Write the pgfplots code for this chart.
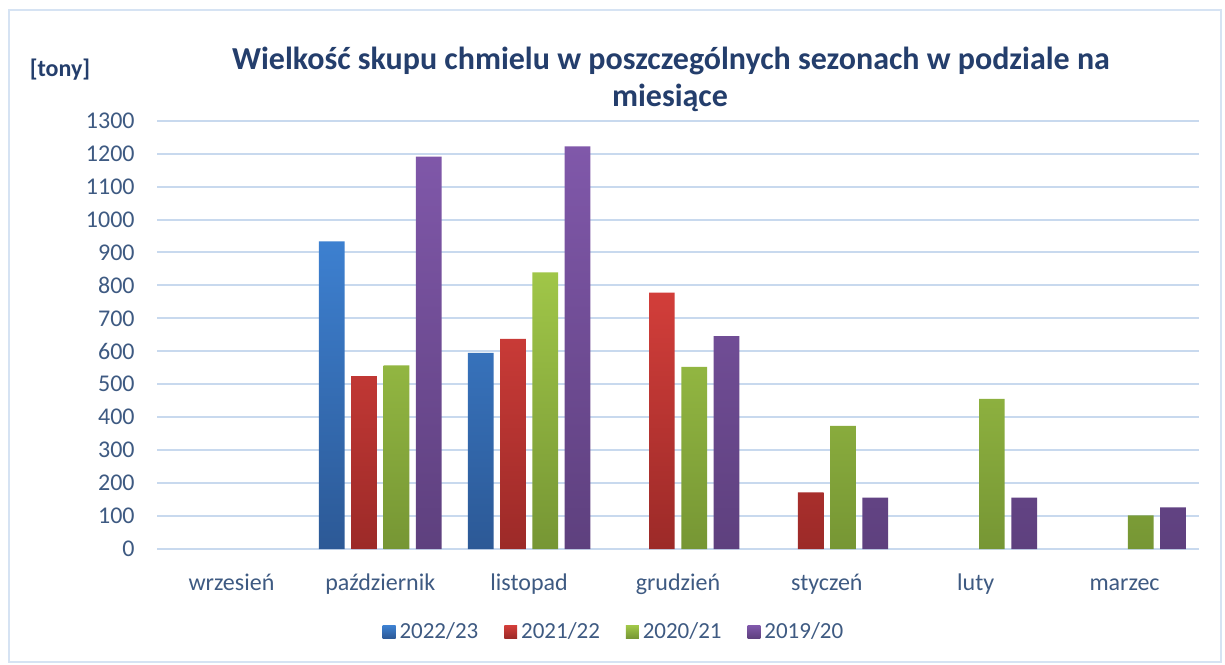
\documentclass[border=0pt]{standalone}
\usepackage{pgfplots}
\pgfplotsset{compat=1.18}
\usepackage{fontspec}
\setmainfont{Carlito}
\definecolor{titlec}{RGB}{36,62,108}
\definecolor{tickc}{RGB}{62,90,130}
\definecolor{gridc}{RGB}{200,217,238}
\definecolor{framec}{RGB}{214,227,243}
\definecolor{blueT}{RGB}{61,128,208}\definecolor{blueB}{RGB}{44,89,150}
\definecolor{redT}{RGB}{210,62,58}\definecolor{redB}{RGB}{156,42,40}
\definecolor{greenT}{RGB}{160,198,72}\definecolor{greenB}{RGB}{118,150,52}
\definecolor{purT}{RGB}{128,88,170}\definecolor{purB}{RGB}{94,64,126}
\begin{document}
\begin{tikzpicture}
\path[fill=white] (0,0) rectangle (612.5pt,332pt);
\draw[framec, line width=1pt] (4.5pt,1pt) rectangle (610.5pt,327pt);
\node[text=titlec, font=\fontsize{16}{19}\selectfont\bfseries] at (335.5pt,301.5pt) {Wielkość skupu chmielu w poszczególnych sezonach w podziale na};
\node[text=titlec, font=\fontsize{16}{19}\selectfont\bfseries] at (335pt,283pt) {miesiące};
\node[text=titlec, font=\fontsize{12}{14}\selectfont\bfseries] at (30pt,297pt) {[tony]};
\begin{axis}[
  at={(78.5pt,57.5pt)}, anchor=south west,
  scale only axis, width=521pt, height=214.15pt,
  xmin=-0.5, xmax=6.5, ymin=0, ymax=1300,
  ytick={0,100,...,1300},
  xtick={0,...,6},
  xticklabels={wrzesień,październik,listopad,grudzień,styczeń,luty,marzec},
  axis line style={draw=none},
  major tick length=0pt,
  ymajorgrids, grid style={gridc, line width=1pt},
  /pgf/number format/.cd, 1000 sep={}, assume math mode=true, /pgfplots/.cd,
  tick label style={text=tickc, font=\fontsize{12}{14}\selectfont},
  yticklabel style={anchor=east, inner sep=0pt, xshift=-11pt},
  xticklabel style={anchor=base, inner sep=0pt, yshift=-20.5pt},
  ybar=3.3pt, bar width=12.85pt,
  legend columns=4,
  legend style={at={(0.4395,-0.1938)}, anchor=center, draw=none, fill=none,
    font=\fontsize{11.5}{14}\selectfont, text=tickc,
    /tikz/every even column/.append style={column sep=11pt}},
  legend image code/.code={\path[#1] (0pt,-3.2pt) rectangle (6.4pt,3.2pt);},
]
\addplot[draw=none, top color=blueT, bottom color=blueB] coordinates {(1,934) (2,595)};
\addplot[draw=none, top color=redT, bottom color=redB] coordinates {(1,525) (2,638) (3,778) (4,172)};
\addplot[draw=none, top color=greenT, bottom color=greenB] coordinates {(1,557) (2,840) (3,553) (4,374) (5,456) (6,102)};
\addplot[draw=none, top color=purT, bottom color=purB] coordinates {(1,1191) (2,1222) (3,646) (4,156) (5,156) (6,126)};
\legend{2022/23,2021/22,2020/21,2019/20}
\end{axis}
\end{tikzpicture}
\end{document}
